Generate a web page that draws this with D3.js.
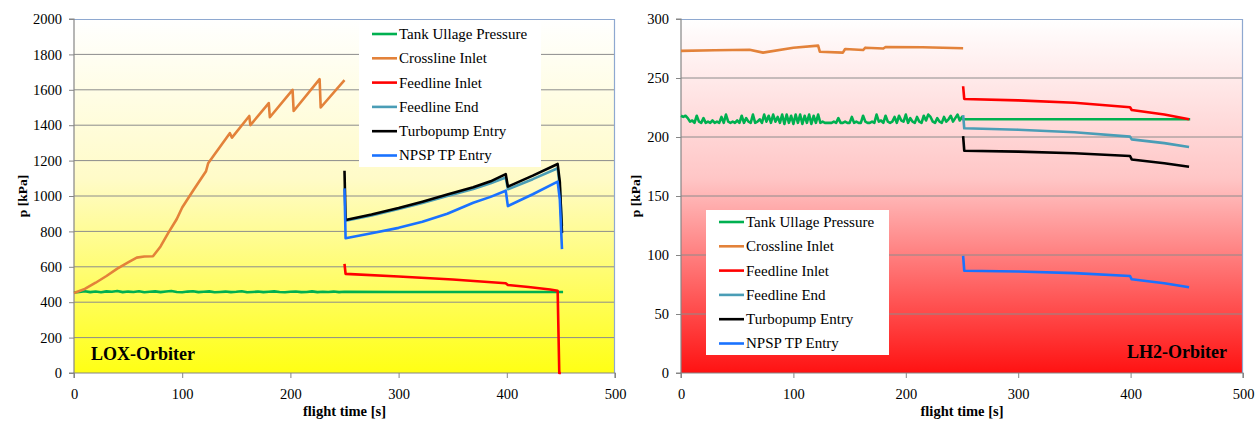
<!DOCTYPE html>
<html>
<head>
<meta charset="utf-8">
<script src="https://cdn.jsdelivr.net/npm/d3@7"></script>
<style>
  body { margin: 0; background: #fff; }
  svg text { font-family: "Liberation Serif", "Tinos", "DejaVu Serif", serif; }
</style>
</head>
<body>
<div id="chart"></div>
<script>
// series names + colours (legend order)
var seriesNames = ["Tank Ullage Pressure", "Crossline Inlet", "Feedline Inlet", "Feedline End", "Turbopump Entry", "NPSP TP Entry"];
var seriesColors = ["#00b050", "#e3823a", "#ff0000", "#4a9db6", "#000000", "#1a72ff"];

var xTicks = [0, 100, 200, 300, 400, 500];
var loxYTicks = [0, 200, 400, 600, 800, 1000, 1200, 1400, 1600, 1800, 2000];
var lh2YTicks = [0, 50, 100, 150, 200, 250, 300];

// ---------- LOX orbiter ----------
// ullage pressure sampled every 5 s from 0 to 250 s, then flat
var loxUllageNoise = [455,458,462,457,460,456,461,459,463,457,460,458,462,456,459,461,457,460,463,458,456,460,462,457,459,461,456,458,460,457,459,462,456,458,460,457,459,461,458,456,459,460,457,458,461,457,459,458,460,457,459];
var loxUllageTail = [[300, 458], [350, 458], [400, 458], [452, 458]];

var loxCrossline = [[0,452],[10,475],[20,510],[30,548],[40,590],[50,625],[58,652],[65,658],[73,660],[80,715],[87,790],[95,870],[100,935],[110,1030],[122,1140],[124,1185],[144,1355],[146,1330],[162,1452],[163,1400],[180,1525],[181,1445],[202,1600],[203,1480],[227,1660],[228,1500],[250,1655]];
var loxFeedInlet = [[250,616],[251,560],[300,545],[350,528],[399,507],[401,497],[420,486],[440,472],[447,465],[448.5,0],[450,0]];
var loxFeedEnd = [[251,860],[275,890],[300,926],[322,961],[345,1000],[369,1040],[385,1072],[399,1105],[401,1038],[424,1095],[447,1157],[449,1050],[451,830]];
var loxTurbo = [[250,1143],[251,864],[275,895],[300,932],[322,968],[345,1008],[369,1049],[385,1083],[399,1124],[401,1053],[424,1115],[447,1181],[449,1080],[451,790]];
var loxNpsp = [[250,1043],[251,761],[275,790],[300,820],[322,855],[345,900],[369,962],[385,995],[399,1030],[401,943],[424,1010],[447,1081],[449,980],[451,700]];

// ---------- LH2 orbiter ----------
// ullage pressure sampled every 2 s from 0 to 250 s, then flat
var lh2UllageNoise = [218,217,218,216,213,214,
  212,218,213,212,216,212,213,212,214,212,
  213,212,217,212,219,213,212,213,212,214,
  212,218,212,216,213,212,219,212,213,215,
  212,219,213,218,212,219,213,217,212,219,
  211,219,212,218,211,219,212,219,211,218,
  212,219,211,218,212,219,212,213,212,212,
  212,212,213,212,216,212,212,213,212,212,
  217,212,213,212,212,218,213,212,212,213,
  212,219,213,214,212,218,213,212,213,217,
  212,218,214,213,219,212,216,213,212,217,
  213,212,218,214,219,217,213,212,216,213,
  212,217,213,215,218,213,216,219,214,217];
var lh2UllageTail = [[251,215],[300,215],[400,215],[453,215]];

var lh2Crossline = [[0,273],[30,273.5],[61,274],[73,271.5],[100,275.7],[122,277.4],[123.5,272.3],[144,271.5],[146,274.6],[162,273.7],[164,275.7],[180,275],[182,276.3],[215,276],[251,275.2]];
var lh2FeedInlet = [[251,243],[252,232.2],[300,231],[350,229],[399.5,225.2],[401,222.9],[430,219],[452,215]];
var lh2FeedEnd = [[251,218.6],[252,207.4],[300,206.2],[350,204],[399.5,200.3],[401,198],[430,194.8],[452,191.5]];
var lh2Turbo = [[251,200.8],[252,188.4],[300,187.6],[350,186.2],[399.5,183.9],[401,181],[430,177.8],[452,174.8]];
var lh2Npsp = [[251,99.2],[252,86.7],[300,86],[350,84.6],[399.5,82.2],[401,79.4],[430,76],[452,72.6]];

var serif = "'Liberation Serif', 'Tinos', 'DejaVu Serif', serif";

function noisySeries(values, step, tail) {
  var pts = values.map(function(v, i) { return [i * step, v]; });
  return pts.concat(tail);
}

var svg = d3.select("#chart").append("svg")
  .attr("width", 1260)
  .attr("height", 421)
  .attr("font-family", serif);

var defs = svg.append("defs");

function drawChart(cfg) {
  var x = d3.scaleLinear().domain([0, 500]).range([cfg.x0, cfg.x1]);
  var y = d3.scaleLinear().domain([0, cfg.yMax]).range([373, 19]);

  // gradient background
  var grad = defs.append("linearGradient")
    .attr("id", cfg.id + "grad")
    .attr("x1", 0).attr("y1", 0).attr("x2", 0).attr("y2", 1);
  cfg.stops.forEach(function(s) {
    grad.append("stop").attr("offset", s[0]).attr("stop-color", s[1]);
  });

  var g = svg.append("g");

  g.append("rect")
    .attr("x", cfg.x0).attr("y", 19)
    .attr("width", cfg.x1 - cfg.x0).attr("height", 354)
    .attr("fill", "url(#" + cfg.id + "grad)");

  // grid lines
  g.selectAll(".grid")
    .data(cfg.yTicks.slice(1, -1))
    .enter()
    .append("line")
    .attr("x1", cfg.x0).attr("x2", cfg.x1)
    .attr("y1", d => y(d)).attr("y2", d => y(d))
    .attr("stroke", "#8c8c8c")
    .attr("stroke-width", 1);

  // top / right frame
  g.append("path")
    .attr("d", `M${cfg.x0},19.5H${cfg.x1 - 0.5}V373`)
    .attr("fill", "none")
    .attr("stroke", "#8ea8d0")
    .attr("stroke-width", 1.2);

  // axes
  var yAxis = d3.axisLeft(y).tickValues(cfg.yTicks).tickSize(5).tickPadding(7).tickFormat(d3.format("d"));
  var xAxis = d3.axisBottom(x).tickValues(xTicks).tickSize(5).tickPadding(11).tickFormat(d3.format("d"));

  var ya = g.append("g")
    .attr("transform", `translate(${cfg.x0}, 0)`)
    .call(yAxis);
  var xa = g.append("g")
    .attr("transform", `translate(0, 373)`)
    .call(xAxis);

  [ya, xa].forEach(function(a) {
    a.attr("font-family", serif).attr("font-size", 14.5);
    a.select(".domain").attr("stroke", "#868686").attr("stroke-width", 1.2);
    a.selectAll(".tick line").attr("stroke", "#868686");
    a.selectAll("text").attr("fill", "#000");
  });
  ya.select(".domain").attr("d", `M-5,${y(cfg.yMax)}H0V${y(0)}H-5`);
  xa.select(".domain").attr("d", `M${cfg.x0},5V0H${cfg.x1}V5`);

  // lines
  var line = d3.line()
    .x(d => x(d[0]))
    .y(d => y(d[1]));

  g.selectAll(".series")
    .data(cfg.series)
    .enter()
    .append("path")
    .attr("d", d => line(d))
    .attr("fill", "none")
    .attr("stroke", (d, i) => seriesColors[i])
    .attr("stroke-width", 2.6)
    .attr("stroke-linejoin", "round");

  // legend
  var leg = g.append("g")
    .attr("transform", `translate(${cfg.legend.x}, ${cfg.legend.y})`);
  leg.append("rect")
    .attr("width", cfg.legend.w)
    .attr("height", cfg.legend.h)
    .attr("fill", "#fff");
  var item = leg.selectAll(".item")
    .data(seriesNames)
    .enter()
    .append("g")
    .attr("transform", (d, i) => `translate(0, ${cfg.legend.top + i * 24.3})`);
  item.append("line")
    .attr("x1", cfg.legend.pad).attr("x2", cfg.legend.pad + 25)
    .attr("stroke", (d, i) => seriesColors[i])
    .attr("stroke-width", 2.6);
  item.append("text")
    .attr("x", cfg.legend.pad + 27)
    .attr("dy", "0.33em")
    .attr("font-size", 15)
    .text(d => d);

  // chart name
  g.append("text")
    .attr("x", cfg.name.x)
    .attr("y", cfg.name.y)
    .attr("text-anchor", cfg.name.anchor)
    .attr("font-size", 18)
    .attr("font-weight", "bold")
    .text(cfg.name.text);

  // axis labels
  g.append("text")
    .attr("transform", `translate(${cfg.yLabelX}, 196) rotate(-90)`)
    .attr("text-anchor", "middle")
    .attr("font-size", 13.5)
    .attr("font-weight", "bold")
    .text("p [kPa]");

  g.append("text")
    .attr("x", (cfg.x0 + cfg.x1) / 2)
    .attr("y", 416)
    .attr("text-anchor", "middle")
    .attr("font-size", 14.5)
    .attr("font-weight", "bold")
    .text("flight time [s]");
}

drawChart({
  id: "lox",
  x0: 74, x1: 615,
  yMax: 2000,
  yTicks: loxYTicks,
  stops: [[0, "#ffffff"], [0.45, "#fffbc8"], [1, "#ffff14"]],
  series: [noisySeries(loxUllageNoise, 5, loxUllageTail), loxCrossline, loxFeedInlet, loxFeedEnd, loxTurbo, loxNpsp],
  legend: {x: 359, y: 21, w: 182, h: 146, top: 13, pad: 13},
  name: {x: 91, y: 360, anchor: "start", text: "LOX-Orbiter"},
  yLabelX: 27
});

drawChart({
  id: "lh2",
  x0: 681, x1: 1243,
  yMax: 300,
  yTicks: lh2YTicks,
  stops: [[0, "#ffffff"], [0.45, "#ffc6c6"], [1, "#ff1212"]],
  series: [noisySeries(lh2UllageNoise, 2, lh2UllageTail), lh2Crossline, lh2FeedInlet, lh2FeedEnd, lh2Turbo, lh2Npsp],
  legend: {x: 706, y: 210, w: 183, h: 145, top: 12, pad: 13},
  name: {x: 1227, y: 358, anchor: "end", text: "LH2-Orbiter"},
  yLabelX: 640
});
</script>
</body>
</html>
